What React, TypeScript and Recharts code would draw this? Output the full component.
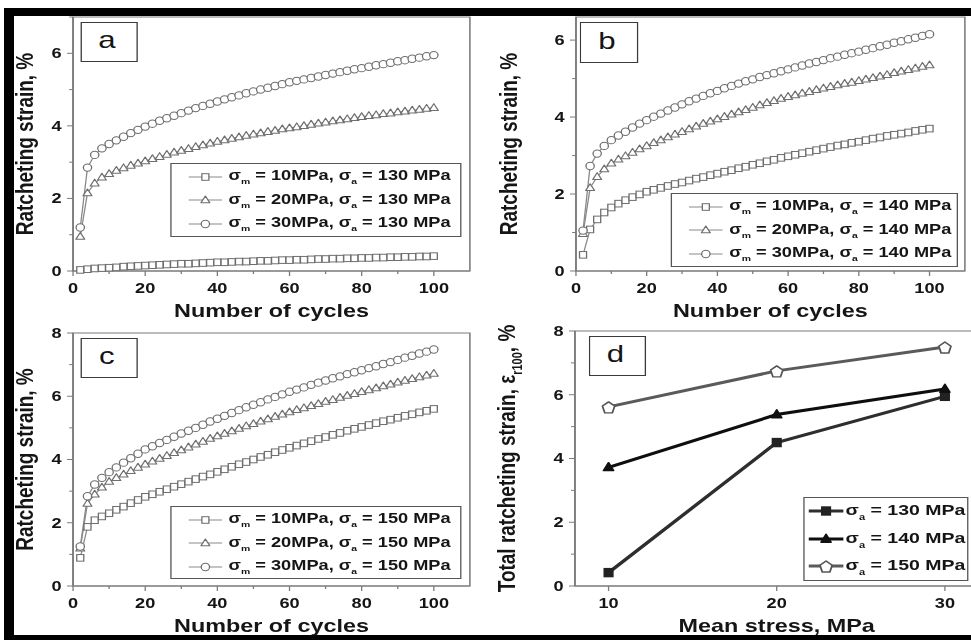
import React from 'react';
import { LineChart, Line, XAxis, YAxis, ReferenceArea, Legend } from 'recharts';

// cycle numbers of the plotted markers (every second cycle)
const cycles = [
  2, 4, 6, 8, 10, 12, 14, 16, 18, 20,
  22, 24, 26, 28, 30, 32, 34, 36, 38, 40,
  42, 44, 46, 48, 50, 52, 54, 56, 58, 60,
  62, 64, 66, 68, 70, 72, 74, 76, 78, 80,
  82, 84, 86, 88, 90, 92, 94, 96, 98, 100,
];

// (a) sigma_a = 130 MPa
const a10 = [
  0.03, 0.05, 0.07, 0.08, 0.09, 0.10, 0.12, 0.13, 0.14, 0.15,
  0.16, 0.17, 0.18, 0.19, 0.20, 0.20, 0.21, 0.22, 0.23, 0.24,
  0.24, 0.25, 0.26, 0.26, 0.27, 0.28, 0.28, 0.29, 0.30, 0.30,
  0.31, 0.31, 0.32, 0.33, 0.33, 0.34, 0.34, 0.35, 0.35, 0.36,
  0.36, 0.37, 0.37, 0.38, 0.38, 0.39, 0.39, 0.40, 0.40, 0.41,
];
const a20 = [
  0.95, 2.15, 2.42, 2.58, 2.68, 2.77, 2.84, 2.91, 2.97, 3.03,
  3.09, 3.15, 3.21, 3.27, 3.32, 3.37, 3.42, 3.47, 3.52, 3.57,
  3.61, 3.65, 3.69, 3.73, 3.77, 3.80, 3.84, 3.87, 3.91, 3.94,
  3.97, 4.00, 4.04, 4.07, 4.10, 4.13, 4.16, 4.19, 4.22, 4.25,
  4.28, 4.30, 4.33, 4.35, 4.38, 4.40, 4.43, 4.45, 4.48, 4.50,
];
const a30 = [
  1.20, 2.85, 3.20, 3.38, 3.50, 3.60, 3.70, 3.80, 3.89, 3.98,
  4.06, 4.14, 4.21, 4.28, 4.35, 4.42, 4.49, 4.55, 4.61, 4.67,
  4.73, 4.79, 4.84, 4.90, 4.95, 5.00, 5.05, 5.10, 5.15, 5.20,
  5.24, 5.28, 5.32, 5.36, 5.40, 5.44, 5.48, 5.52, 5.56, 5.59,
  5.63, 5.67, 5.70, 5.74, 5.78, 5.81, 5.85, 5.88, 5.92, 5.95,
];

// (b) sigma_a = 140 MPa
const b10 = [
  0.42, 1.08, 1.34, 1.52, 1.65, 1.75, 1.84, 1.92, 1.99, 2.06,
  2.11, 2.16, 2.21, 2.26, 2.30, 2.35, 2.40, 2.44, 2.49, 2.53,
  2.58, 2.62, 2.67, 2.71, 2.76, 2.80, 2.85, 2.89, 2.94, 2.98,
  3.02, 3.06, 3.10, 3.14, 3.18, 3.22, 3.26, 3.29, 3.33, 3.36,
  3.40, 3.44, 3.47, 3.51, 3.54, 3.57, 3.60, 3.64, 3.67, 3.70,
];
const b20 = [
  0.97, 2.16, 2.45, 2.65, 2.80, 2.90, 2.99, 3.08, 3.17, 3.25,
  3.33, 3.40, 3.48, 3.55, 3.62, 3.69, 3.76, 3.83, 3.89, 3.95,
  4.01, 4.07, 4.13, 4.19, 4.25, 4.31, 4.37, 4.42, 4.48, 4.53,
  4.57, 4.62, 4.66, 4.71, 4.75, 4.79, 4.83, 4.87, 4.90, 4.94,
  4.98, 5.02, 5.06, 5.10, 5.15, 5.19, 5.23, 5.27, 5.31, 5.35,
];
const b30 = [
  1.05, 2.73, 3.05, 3.25, 3.40, 3.52, 3.62, 3.73, 3.83, 3.92,
  4.01, 4.09, 4.17, 4.25, 4.33, 4.41, 4.48, 4.55, 4.62, 4.68,
  4.75, 4.81, 4.87, 4.93, 4.98, 5.04, 5.09, 5.14, 5.19, 5.24,
  5.29, 5.34, 5.39, 5.43, 5.48, 5.53, 5.57, 5.62, 5.66, 5.70,
  5.75, 5.79, 5.84, 5.88, 5.93, 5.97, 6.02, 6.06, 6.11, 6.15,
];

// (c) sigma_a = 150 MPa
const c10 = [
  0.89, 1.87, 2.08, 2.20, 2.30, 2.41, 2.51, 2.62, 2.72, 2.82,
  2.90, 2.98, 3.06, 3.14, 3.22, 3.30, 3.38, 3.46, 3.53, 3.61,
  3.69, 3.77, 3.85, 3.92, 4.00, 4.08, 4.15, 4.23, 4.30, 4.37,
  4.44, 4.51, 4.58, 4.65, 4.71, 4.78, 4.84, 4.91, 4.97, 5.03,
  5.09, 5.15, 5.21, 5.26, 5.32, 5.38, 5.43, 5.49, 5.54, 5.60,
];
const c20 = [
  1.19, 2.61, 2.90, 3.12, 3.30, 3.42, 3.53, 3.64, 3.75, 3.85,
  3.94, 4.03, 4.12, 4.21, 4.30, 4.39, 4.48, 4.57, 4.66, 4.74,
  4.82, 4.90, 4.98, 5.06, 5.13, 5.21, 5.28, 5.36, 5.43, 5.50,
  5.57, 5.63, 5.70, 5.76, 5.83, 5.89, 5.96, 6.02, 6.08, 6.14,
  6.20, 6.26, 6.32, 6.38, 6.44, 6.50, 6.55, 6.61, 6.66, 6.72,
];
const c30 = [
  1.25, 2.84, 3.21, 3.42, 3.60, 3.75, 3.90, 4.04, 4.18, 4.32,
  4.42, 4.52, 4.62, 4.72, 4.82, 4.91, 5.00, 5.10, 5.20, 5.29,
  5.38, 5.47, 5.56, 5.65, 5.73, 5.81, 5.90, 5.98, 6.06, 6.14,
  6.21, 6.28, 6.36, 6.43, 6.50, 6.57, 6.63, 6.70, 6.76, 6.82,
  6.89, 6.95, 7.02, 7.08, 7.15, 7.22, 7.28, 7.35, 7.41, 7.48,
];

// (d) total ratcheting strain after 100 cycles
const meanStress = [10, 20, 30];
const total130 = [0.42, 4.5, 5.95];
const total140 = [3.72, 5.38, 6.18];
const total150 = [5.62, 6.75, 7.5];

const cycleTicks = [0, 10, 20, 30, 40, 50, 60, 70, 80, 90, 100];
const stressTicks = [10, 20, 30];
const strainTicks7 = [0, 1, 2, 3, 4, 5, 6, 7];
const strainTicks6 = [0, 1, 2, 3, 4, 5, 6];
const strainTicks8 = [0, 1, 2, 3, 4, 5, 6, 7, 8];

// layout: everything is drawn W wide, then stretched horizontally to 971
const W = 747;
const H = 640;
const S = 971 / W;
const XH = 30;
const YW = 40;

const FONT = '"Liberation Sans", Arial, Helvetica, sans-serif';
const INK = '#151515';
const FRAME = '#7b7b7b';
const MARK = '#6e6e6e';
const THIN = '#8a8a8a';

const Marker = ({ shape, cx, cy, w, h, fill = '#fff', stroke = MARK, sw = 1 }: any) => {
  if (cx == null || cy == null) return null;
  if (shape === 'circle') {
    return <ellipse cx={cx} cy={cy} rx={w / 2} ry={h / 2} fill={fill} stroke={stroke} strokeWidth={sw} />;
  }
  if (shape === 'square') {
    return <rect x={cx - w / 2} y={cy - h / 2} width={w} height={h} fill={fill} stroke={stroke} strokeWidth={sw} />;
  }
  if (shape === 'triangle') {
    const pts = `${cx},${cy - h * 0.6} ${cx + w / 2},${cy + h * 0.4} ${cx - w / 2},${cy + h * 0.4}`;
    return <polygon points={pts} fill={fill} stroke={stroke} strokeWidth={sw} strokeLinejoin="round" />;
  }
  // pentagon
  const pts = [0, 1, 2, 3, 4]
    .map((k) => {
      const ang = (-90 + k * 72) * Math.PI / 180;
      return `${cx + Math.cos(ang) * w / 1.902},${cy + 0.1 * h + Math.sin(ang) * h / 1.809}`;
    })
    .join(' ');
  return <polygon points={pts} fill={fill} stroke={stroke} strokeWidth={sw} strokeLinejoin="round" />;
};

const XTick = (props: any) => {
  const { x, y, payload, every } = props;
  const v = payload.value;
  const major = v % every === 0;
  return (
    <g>
      <line x1={x} x2={x} y1={y} y2={y + (major ? 5 : 3)} stroke={FRAME} strokeWidth={1} />
      {major && (
        <text x={x} y={y + 22} textAnchor="middle" fontFamily={FONT} fontWeight="bold" fontSize={14} fill={INK}>
          {v}
        </text>
      )}
    </g>
  );
};

const YTick = (props: any) => {
  const { x, y, payload } = props;
  const v = payload.value;
  const major = v % 2 === 0;
  return (
    <g>
      <line x1={x} x2={x - (major ? 4.6 : 3)} y1={y} y2={y} stroke={FRAME} strokeWidth={1} />
      {major && (
        <text x={x - 8.7} y={y + 5} textAnchor="end" fontFamily={FONT} fontWeight="bold" fontSize={14} fill={INK}>
          {v}
        </text>
      )}
    </g>
  );
};

const XTitle = ({ viewBox, text }: any) => (
  <text
    x={viewBox.x + viewBox.width / 2}
    y={viewBox.y + 46.5}
    textAnchor="middle"
    fontFamily={FONT}
    fontWeight="bold"
    fontSize={18}
    fill={INK}
  >
    {text}
  </text>
);

const YTitle = ({ viewBox, gap, children }: any) => {
  const x = viewBox.x + viewBox.width - gap;
  const y = viewBox.y + viewBox.height / 2;
  return (
    <text
      transform={`translate(${x},${y}) rotate(-90)`}
      textAnchor="middle"
      fontFamily={FONT}
      fontWeight="bold"
      fontSize={19}
      fill={INK}
    >
      {children}
    </text>
  );
};

const sub = (size: number, drop: number): React.CSSProperties => ({
  fontSize: size,
  position: 'relative',
  top: drop,
});

const CycleLegend = ({ amp }: { amp: number }) => {
  const items = [
    { m: 10, shape: 'square', w: 5.4, h: 6.6 },
    { m: 20, shape: 'triangle', w: 6.8, h: 6.8 },
    { m: 30, shape: 'circle', w: 6.4, h: 7.4 },
  ];
  return (
    <div
      style={{
        boxSizing: 'border-box',
        width: '100%',
        height: '100%',
        border: '1.2px solid #555',
        background: '#fff',
        paddingTop: 1,
        fontFamily: FONT,
        fontWeight: 'bold',
        fontSize: 14,
        color: INK,
      }}
    >
      {items.map((it) => (
        <div key={it.m} style={{ display: 'flex', alignItems: 'center', height: 23.5, paddingLeft: 13 }}>
          <svg width={26} height={12} style={{ flex: 'none' }}>
            <line x1={0} x2={26} y1={6} y2={6} stroke={THIN} strokeWidth={1} />
            <Marker shape={it.shape} cx={13} cy={6} w={it.w} h={it.h} />
          </svg>
          <span style={{ marginLeft: 5, whiteSpace: 'nowrap', lineHeight: '14px' }}>
            σ<span style={sub(8, 4)}>m</span> = {it.m}MPa, σ<span style={sub(8, 4)}>a</span> = {amp} MPa
          </span>
        </div>
      ))}
    </div>
  );
};

const TotalLegend = () => {
  const items = [
    { amp: 130, color: '#2e2e2e', shape: 'square', w: 6.4, h: 8, fill: '#222', stroke: '#222' },
    { amp: 140, color: '#0e0e0e', shape: 'triangle', w: 7.7, h: 8, fill: '#111', stroke: '#111' },
    { amp: 150, color: '#5a5a5a', shape: 'pentagon', w: 9.4, h: 11, fill: '#fff', stroke: '#555' },
  ];
  return (
    <div
      style={{
        boxSizing: 'border-box',
        width: '100%',
        height: '100%',
        border: '1.2px solid #555',
        background: '#fff',
        fontFamily: FONT,
        fontWeight: 'bold',
        fontSize: 15,
        color: INK,
      }}
    >
      {items.map((it) => (
        <div key={it.amp} style={{ display: 'flex', alignItems: 'center', height: 27.5, paddingLeft: 3 }}>
          <svg width={27} height={14} style={{ flex: 'none' }}>
            <line x1={0} x2={27} y1={7} y2={7} stroke={it.color} strokeWidth={3} />
            <Marker shape={it.shape} cx={13.5} cy={7} w={it.w} h={it.h} fill={it.fill} stroke={it.stroke} sw={1.4} />
          </svg>
          <span style={{ marginLeft: 2, whiteSpace: 'nowrap', lineHeight: '15px' }}>
            σ<span style={sub(8.5, 5)}>a</span> = {it.amp} MPa
          </span>
        </div>
      ))}
    </div>
  );
};

type Rect = { left: number; right: number; top: number; bottom: number };
type Box = { left: number; top: number; width: number; height: number };

const CyclePanel = ({ plot, yMax, yTicks, s10, s20, s30, amp, legend, gap }: {
  plot: Rect; yMax: number; yTicks: number[]; s10: number[]; s20: number[]; s30: number[];
  amp: number; legend: Box; gap: number;
}) => {
  const rows = cycles.map((c, i) => ({ cycle: c, s10: s10[i], s20: s20[i], s30: s30[i] }));
  const series = [
    { key: 's10', shape: 'square', w: 5.4, h: 6.6 },
    { key: 's20', shape: 'triangle', w: 6.8, h: 6.8 },
    { key: 's30', shape: 'circle', w: 6.4, h: 7.4 },
  ];
  return (
    <div style={{ position: 'absolute', left: 0, top: 0 }}>
      <LineChart
        width={W}
        height={H}
        data={rows}
        margin={{ top: plot.top, left: plot.left - YW, right: W - plot.right, bottom: H - plot.bottom - XH }}
      >
        <ReferenceArea x1={0} x2={110} y1={0} y2={yMax} fill="none" stroke={FRAME} strokeWidth={1.2} />
        <XAxis
          type="number"
          dataKey="cycle"
          domain={[0, 110]}
          ticks={cycleTicks}
          interval={0}
          height={XH}
          tickSize={0}
          tickMargin={0}
          tickLine={false}
          axisLine={{ stroke: FRAME, strokeWidth: 1.2 }}
          tick={(p: any) => <XTick {...p} every={20} />}
          label={{ content: (p: any) => <XTitle viewBox={p.viewBox} text="Number of cycles" /> }}
        />
        <YAxis
          type="number"
          domain={[0, yMax]}
          ticks={yTicks}
          interval={0}
          width={YW}
          tickSize={0}
          tickMargin={0}
          tickLine={false}
          axisLine={{ stroke: FRAME, strokeWidth: 1.2 }}
          tick={(p: any) => <YTick {...p} />}
          label={{
            content: (p: any) => (
              <YTitle viewBox={p.viewBox} gap={gap}>
                Ratcheting strain, %
              </YTitle>
            ),
          }}
        />
        {series.map((s) => (
          <Line
            key={s.key}
            dataKey={s.key}
            type="linear"
            stroke={THIN}
            strokeWidth={1}
            isAnimationActive={false}
            activeDot={false}
            dot={(p: any) => <Marker key={`${s.key}-${p.index}`} shape={s.shape} cx={p.cx} cy={p.cy} w={s.w} h={s.h} />}
          />
        ))}
        <Legend
          layout="horizontal"
          verticalAlign="middle"
          align="center"
          wrapperStyle={{ left: legend.left, top: legend.top, width: legend.width, height: legend.height }}
          content={() => <CycleLegend amp={amp} />}
        />
      </LineChart>
    </div>
  );
};

const TotalPanel = () => {
  const plot = { left: 442.3, right: 752.8, top: 331, bottom: 586 };
  const CW = 760;
  const rows = meanStress.map((m, i) => ({ stress: m, g130: total130[i], g140: total140[i], g150: total150[i] }));
  const series = [
    { key: 'g130', color: '#2e2e2e', shape: 'square', w: 6.4, h: 8, fill: '#222', stroke: '#222' },
    { key: 'g140', color: '#0e0e0e', shape: 'triangle', w: 7.7, h: 8, fill: '#111', stroke: '#111' },
    { key: 'g150', color: '#5a5a5a', shape: 'pentagon', w: 9.4, h: 11, fill: '#fff', stroke: '#555' },
  ];
  return (
    <div style={{ position: 'absolute', left: 0, top: 0 }}>
      <LineChart
        width={CW}
        height={H}
        data={rows}
        margin={{ top: plot.top, left: plot.left - YW, right: CW - plot.right, bottom: H - plot.bottom - XH }}
      >
        <ReferenceArea x1={8} x2={32} y1={0} y2={8} fill="none" stroke={FRAME} strokeWidth={1.2} />
        <XAxis
          type="number"
          dataKey="stress"
          domain={[8, 32]}
          ticks={stressTicks}
          interval={0}
          height={XH}
          tickSize={0}
          tickMargin={0}
          tickLine={false}
          axisLine={{ stroke: FRAME, strokeWidth: 1.2 }}
          tick={(p: any) => <XTick {...p} every={10} />}
          label={{ content: (p: any) => <XTitle viewBox={{ ...p.viewBox, width: 310.5 }} text="Mean stress, MPa" /> }}
        />
        <YAxis
          type="number"
          domain={[0, 8]}
          ticks={strainTicks8}
          interval={0}
          width={YW}
          tickSize={0}
          tickMargin={0}
          tickLine={false}
          axisLine={{ stroke: FRAME, strokeWidth: 1.2 }}
          tick={(p: any) => <YTick {...p} />}
          label={{
            content: (p: any) => (
              <YTitle viewBox={p.viewBox} gap={46}>
                Total ratcheting strain, ε
                <tspan fontSize={11} dy={5}>r100</tspan>
                <tspan dy={-5}>, %</tspan>
              </YTitle>
            ),
          }}
        />
        {series.map((s) => (
          <Line
            key={s.key}
            dataKey={s.key}
            type="linear"
            stroke={s.color}
            strokeWidth={3}
            isAnimationActive={false}
            activeDot={false}
            dot={(p: any) => (
              <Marker key={`${s.key}-${p.index}`} shape={s.shape} cx={p.cx} cy={p.cy} w={s.w} h={s.h} fill={s.fill} stroke={s.stroke} sw={1.4} />
            )}
          />
        ))}
        <Legend
          layout="horizontal"
          verticalAlign="middle"
          align="center"
          wrapperStyle={{ left: 617.5, top: 496.7, width: 127, height: 84 }}
          content={() => <TotalLegend />}
        />
      </LineChart>
    </div>
  );
};

const letterBoxes = [
  { letter: 'a', left: 61.5, top: 21.7, width: 44.4, height: 40 },
  { letter: 'b', left: 446.2, top: 22.3, width: 44.4, height: 40.4 },
  { letter: 'c', left: 61.5, top: 337.7, width: 44.4, height: 40.6 },
  { letter: 'd', left: 453.1, top: 335.7, width: 43.8, height: 40.3 },
];

export default function App() {
  return (
    <div style={{ position: 'absolute', left: 0, top: 0, width: 971, height: 640, overflow: 'hidden', background: '#fff' }}>
      <div style={{ position: 'absolute', left: 0, top: 0, width: W, height: H, transform: `scaleX(${S})`, transformOrigin: '0 0' }}>
        <CyclePanel
          plot={{ left: 56.2, right: 361.5, top: 17, bottom: 271 }}
          yMax={7}
          yTicks={strainTicks7}
          s10={a10}
          s20={a20}
          s30={a30}
          amp={130}
          legend={{ left: 130.8, top: 163, width: 223.8, height: 74 }}
          gap={31}
        />
        <CyclePanel
          plot={{ left: 443.1, right: 742.3, top: 17, bottom: 271 }}
          yMax={6.6}
          yTicks={strainTicks6}
          s10={b10}
          s20={b20}
          s30={b30}
          amp={140}
          legend={{ left: 516, top: 193, width: 220.5, height: 74 }}
          gap={45.5}
        />
        <CyclePanel
          plot={{ left: 56.2, right: 361.5, top: 333, bottom: 586 }}
          yMax={8}
          yTicks={strainTicks8}
          s10={c10}
          s20={c20}
          s30={c30}
          amp={150}
          legend={{ left: 130.8, top: 506, width: 223.8, height: 73 }}
          gap={31}
        />
        <TotalPanel />
        {letterBoxes.map((b) => (
          <div
            key={b.letter}
            style={{
              position: 'absolute',
              boxSizing: 'border-box',
              left: b.left,
              top: b.top,
              width: b.width,
              height: b.height,
              border: '1.3px solid #3a3a3a',
              background: '#fff',
              display: 'flex',
              alignItems: 'center',
              justifyContent: 'center',
              fontFamily: FONT,
              fontSize: 24,
              color: INK,
              paddingRight: 3,
              paddingBottom: 3,
            }}
          >
            {b.letter}
          </div>
        ))}
      </div>
      {/* black frame around the figure */}
      <div style={{ position: 'absolute', left: 5, top: 8, width: 966, height: 8, background: '#000' }} />
      <div style={{ position: 'absolute', left: 4, top: 8, width: 10, height: 632, background: '#000' }} />
      <div style={{ position: 'absolute', left: 4, top: 635, width: 967, height: 5, background: '#000' }} />
    </div>
  );
}
